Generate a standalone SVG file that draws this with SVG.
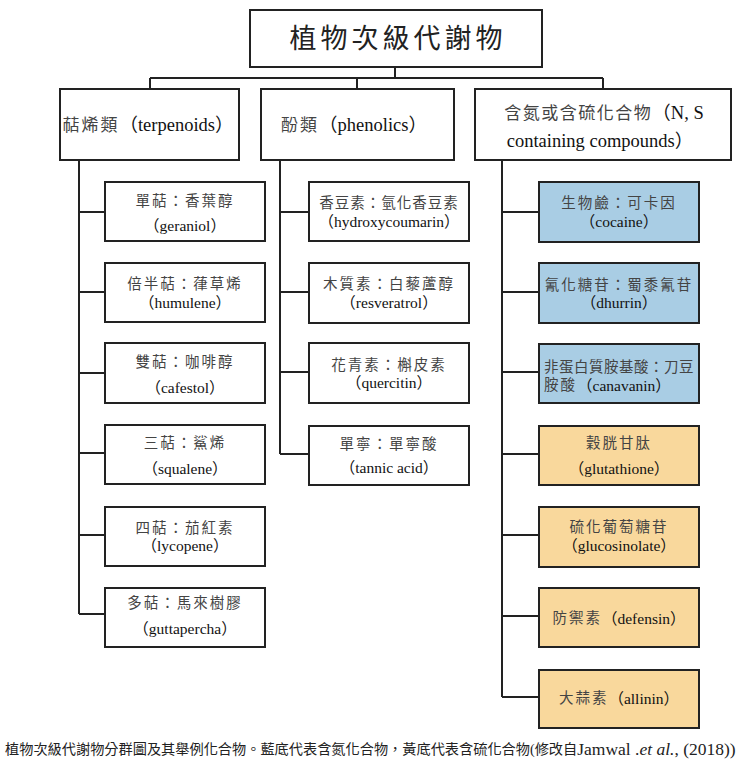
<svg xmlns="http://www.w3.org/2000/svg" width="746" height="780" viewBox="0 0 746 780">
<style>
.box{fill:#fff;stroke:#222;stroke-width:2}
.blue{fill:#a9cde4}
.yel{fill:#f9d89c}
.ln{fill:none;stroke:#222;stroke-width:2}
text{font-family:'Liberation Serif','Noto Sans CJK TC',serif;fill:#111;text-anchor:middle;dominant-baseline:central}
.c{fill:#444;letter-spacing:2px}
.hd{font-size:18.5px}
.hd .c{font-size:17px}
.it{font-size:15.5px}
.it .c{font-size:14.5px}
.ttl{font-size:27px;letter-spacing:4px;fill:#222}
.cap{font-size:17.5px;text-anchor:start;fill:#222}
.cap .k{font-size:14.2px}
</style>
<rect width="746" height="780" fill="#fff"/>
<g id="connectors">
<path class="ln" d="M395 67V78M150 78H603M150 78V89M357 78V89M603 78V89"/>
<path class="ln" d="M79 160V614M79 212H105M79 292H105M79 373H105M79 453H105M79 535H105M79 614H105"/>
<path class="ln" d="M280 160V454M280 212H309M280 292H309M280 372H309M280 454H309"/>
<path class="ln" d="M502 160V697M502 212H539M502 292H539M502 372H539M502 454H539M502 535H539M502 616H539M502 697H539"/>
</g>
<g id="root"><rect class="box" x="250" y="10" width="292" height="57"/><text class="ttl" x="398" y="39">植物次級代謝物</text></g>
<g id="terpenoids"><rect class="box" x="60" y="89" width="179" height="71"/><text class="hd" x="148" y="125"><tspan class="c">萜烯類</tspan>（terpenoids）</text></g>
<g id="phenolics"><rect class="box" x="261" y="89" width="193" height="71"/><text class="hd" x="354" y="125"><tspan class="c">酚類</tspan>（phenolics）</text></g>
<g id="ns"><rect class="box" x="475" y="89" width="256" height="71"/><text class="hd" x="604" y="113"><tspan class="c" style="letter-spacing:1.5px">含氮或含硫化合物</tspan>（N, S</text><text class="hd" x="600" y="141">containing compounds）</text></g>

<g id="geraniol"><rect class="box" x="105" y="182" width="160" height="59"/><text class="it" x="185" y="201"><tspan class="c">單萜：香葉醇</tspan></text><text class="it" x="185" y="225">（geraniol）</text></g>
<g id="humulene"><rect class="box" x="105" y="263" width="160" height="59"/><text class="it" x="185" y="284"><tspan class="c">倍半萜：葎草烯</tspan></text><text class="it" x="185" y="302">（humulene）</text></g>
<g id="cafestol"><rect class="box" x="105" y="343" width="160" height="60"/><text class="it" x="185" y="362"><tspan class="c">雙萜：咖啡醇</tspan></text><text class="it" x="185" y="387">（cafestol）</text></g>
<g id="squalene"><rect class="box" x="105" y="425" width="160" height="59"/><text class="it" x="185" y="443"><tspan class="c">三萜：鯊烯</tspan></text><text class="it" x="185" y="468">（squalene）</text></g>
<g id="lycopene"><rect class="box" x="105" y="507" width="160" height="59"/><text class="it" x="185" y="528"><tspan class="c">四萜：茄紅素</tspan></text><text class="it" x="185" y="545">（lycopene）</text></g>
<g id="guttapercha"><rect class="box" x="105" y="588" width="160" height="59"/><text class="it" x="185" y="603"><tspan class="c">多萜：馬來樹膠</tspan></text><text class="it" x="185" y="628">（guttapercha）</text></g>

<g id="hydroxycoumarin"><rect class="box" x="309" y="182" width="160" height="59"/><text class="it" x="389" y="203"><tspan class="c" style="letter-spacing:1px">香豆素：氫化香豆素</tspan></text><text class="it" x="389" y="221">（hydroxycoumarin）</text></g>
<g id="resveratrol"><rect class="box" x="309" y="263" width="160" height="60"/><text class="it" x="389" y="284"><tspan class="c">木質素：白藜蘆醇</tspan></text><text class="it" x="389" y="302">（resveratrol）</text></g>
<g id="quercitin"><rect class="box" x="309" y="343" width="160" height="60"/><text class="it" x="389" y="365"><tspan class="c">花青素：槲皮素</tspan></text><text class="it" x="389" y="382">（quercitin）</text></g>
<g id="tannic"><rect class="box" x="309" y="426" width="160" height="59"/><text class="it" x="389" y="444"><tspan class="c">單寧：單寧酸</tspan></text><text class="it" x="389" y="467">（tannic acid）</text></g>

<g id="cocaine"><rect class="box blue" x="539" y="182" width="160" height="60"/><text class="it" x="619" y="203"><tspan class="c">生物鹼：可卡因</tspan></text><text class="it" x="619" y="221">（cocaine）</text></g>
<g id="dhurrin"><rect class="box blue" x="539" y="263" width="160" height="60"/><text class="it" x="619" y="285"><tspan class="c">氰化糖苷：蜀黍氰苷</tspan></text><text class="it" x="619" y="302">（dhurrin）</text></g>
<g id="canavanin"><rect class="box blue" x="539" y="344" width="160" height="59"/><text class="it" x="544" y="367" style="text-anchor:start"><tspan class="c" style="letter-spacing:0.5px">非蛋白質胺基酸：刀豆</tspan></text><text class="it" x="544" y="385" style="text-anchor:start"><tspan class="c">胺酸</tspan>（canavanin）</text></g>
<g id="glutathione"><rect class="box yel" x="539" y="426" width="160" height="59"/><text class="it" x="619" y="443"><tspan class="c">穀胱甘肽</tspan></text><text class="it" x="619" y="468">（glutathione）</text></g>
<g id="glucosinolate"><rect class="box yel" x="539" y="507" width="160" height="60"/><text class="it" x="619" y="527"><tspan class="c">硫化葡萄糖苷</tspan></text><text class="it" x="619" y="545">（glucosinolate）</text></g>
<g id="defensin"><rect class="box yel" x="539" y="588" width="160" height="59"/><text class="it" x="619" y="618"><tspan class="c">防禦素</tspan>（defensin）</text></g>
<g id="allinin"><rect class="box yel" x="539" y="670" width="160" height="58"/><text class="it" x="619" y="698"><tspan class="c">大蒜素</tspan>（allinin）</text></g>

<text class="cap" x="5" y="749" style="font-family:'Liberation Serif','Noto Sans CJK TC',sans-serif"><tspan class="k">植物次級代謝物分群圖及其舉例化合物。藍底代表含氮化合物，黃底代表含硫化合物(修改自</tspan>Jamwal .<tspan font-style="italic">et al.</tspan>, (2018))</text>
</svg>
